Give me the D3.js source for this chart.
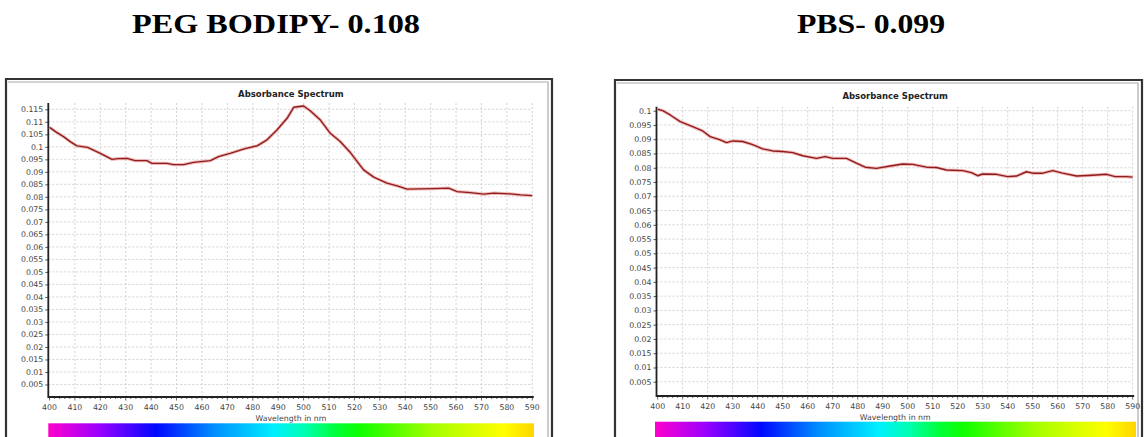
<!DOCTYPE html>
<html lang="en">
<head>
<meta charset="UTF-8">
<title>Absorbance Spectrum</title>
<style>
  body { margin: 0; background: #fff; }
  svg { display: block; }
  .tick-label { font-family: "DejaVu Sans", Verdana, sans-serif; font-size: 7.8px; fill: #444; }
</style>
</head>
<body>
<script src="https://d3js.org/d3.v7.min.js"></script>
<script>
// values
var headings = ['PEG BODIPY- 0.108', 'PBS- 0.099'];
var chartTitle = 'Absorbance Spectrum';
var xAxisTitle = 'Wavelength in nm';

var xTicks = d3.range(400, 591, 10);
var yTicksPeg = d3.range(1, 24).map(function (i) { return +(i * 0.005).toFixed(3); });
var yTicksPbs = d3.range(1, 21).map(function (i) { return +(i * 0.005).toFixed(3); });

var pegWavelength = [400, 402.5, 405.5, 408, 410.8, 415, 420, 424.6, 427, 430.5, 433.7, 438.3, 440.3, 446.2,
  448.8, 452.8, 456.7, 463.3, 466.5, 471.1, 477, 481.7, 485.6, 489.5, 493.5, 496.1, 500, 502.6, 506.6,
  510.5, 514.4, 518.4, 523.6, 527.6, 532.8, 536.8, 540.7, 545.9, 551.2, 557.1, 560.4, 565.6, 570.9,
  574.8, 581.4, 585.3, 590];
var pegAbsorbance = [0.1078, 0.1060, 0.1041, 0.1022, 0.1004, 0.0998, 0.0974, 0.0950, 0.0953, 0.0954, 0.0945,
  0.0945, 0.0934, 0.0934, 0.0929, 0.0929, 0.0938, 0.0945, 0.0961, 0.0974, 0.0993, 0.1004, 0.1028, 0.1067,
  0.1114, 0.1158, 0.1163, 0.1144, 0.1107, 0.1054, 0.1021, 0.0977, 0.0908, 0.0879, 0.0855, 0.0844, 0.0831,
  0.0832, 0.0833, 0.0835, 0.0821, 0.0817, 0.0811, 0.0815, 0.0812, 0.0808, 0.0805];

var pbsWavelength = [400, 402, 405, 409, 414, 418, 421, 425, 427.5, 430, 434, 438, 442, 446, 450, 454, 458,
  463.5, 467, 470, 475.5, 479.5, 483, 487.5, 493, 498, 502, 507.5, 511.5, 515.5, 522, 525.5, 528, 530,
  535.5, 540, 543.5, 547.5, 550, 554, 558, 562, 567.5, 574, 579.5, 583, 587.5, 590];
var pbsAbsorbance = [0.1005, 0.1000, 0.0985, 0.0962, 0.0944, 0.0929, 0.0909, 0.0898, 0.0888, 0.0894, 0.0892,
  0.0881, 0.0866, 0.0859, 0.0857, 0.0853, 0.0842, 0.0833, 0.0839, 0.0833, 0.0833, 0.0816, 0.0802, 0.0798,
  0.0806, 0.0813, 0.0812, 0.0802, 0.0801, 0.0792, 0.0790, 0.0783, 0.0772, 0.0778, 0.0777, 0.0769, 0.0771,
  0.0786, 0.0781, 0.0781, 0.0790, 0.0781, 0.0771, 0.0774, 0.0777, 0.0769, 0.0769, 0.0767];

// spectrum bar colours by wavelength
var spectrumStops = [[400, '#ff00cc'], [420, '#9a00ff'], [442, '#0008ff'], [465, '#0090ff'], [488, '#00eeff'],
  [500, '#00ffb4'], [512, '#00ff3c'], [522, '#10ff00'], [550, '#a4ff00'], [578, '#ffff00'], [590, '#ffd400']];

var svg = d3.select('body').append('svg')
  .attr('width', 1144).attr('height', 437);

var panels = [
  { id: 'peg', heading: headings[0], headX: 276, headLen: 288,
    frame: [6, 79, 552], x0: 49.5, x1: 532.3, yBottom: 397, yTop: 103, y115: 109.3, yRef: 0.115,
    titleY: 96.5, tickY: 410, labelY: 421, bar: [48.3, 534, 423.3],
    wl: pegWavelength, ab: pegAbsorbance, yTicks: yTicksPeg },
  { id: 'pbs', heading: headings[1], headX: 871, headLen: 148,
    frame: [615, 80, 1142], x0: 657.7, x1: 1132.7, yBottom: 396, yTop: 106.7, y115: 110.7, yRef: 0.1,
    titleY: 99, tickY: 408.5, labelY: 419.5, bar: [655, 1136, 421.7],
    wl: pbsWavelength, ab: pbsAbsorbance, yTicks: yTicksPbs }
];

panels.forEach(function (p) {
  var x = d3.scaleLinear().domain([400, 590]).range([p.x0, p.x1]);
  var y = d3.scaleLinear().domain([0, p.yRef]).range([p.yBottom, p.y115]);
  var axisX = p.x0 - 1.2;

  // big heading
  svg.append('text')
    .attr('x', p.headX).attr('y', 33)
    .attr('text-anchor', 'middle')
    .attr('textLength', p.headLen).attr('lengthAdjust', 'spacingAndGlyphs')
    .style('font-family', '"Liberation Serif", "Times New Roman", serif')
    .style('font-weight', 'bold').style('font-size', '28px')
    .text(p.heading);

  // frame
  var f = svg.append('g');
  f.append('path')
    .attr('d', 'M' + p.frame[0] + ',440V' + p.frame[1] + 'H' + p.frame[2] + 'V440')
    .attr('fill', 'none').attr('stroke', '#333').attr('stroke-width', 2.2);
  f.append('path')
    .attr('d', 'M' + (p.frame[0] + 2) + ',' + (p.frame[1] + 3) + 'H' + (p.frame[2] - 4) + 'V440')
    .attr('fill', 'none').attr('stroke', '#aaa').attr('stroke-width', 1.2);

  // grid
  var g = svg.append('g');
  g.selectAll('.vg').data(xTicks.slice(1)).enter().append('line')
    .attr('x1', function (d) { return x(d); }).attr('x2', function (d) { return x(d); })
    .attr('y1', p.yTop).attr('y2', p.yBottom)
    .attr('stroke', '#c8c8c8').attr('stroke-width', 0.8).attr('stroke-dasharray', '2,2');
  g.selectAll('.hg').data(p.yTicks).enter().append('line')
    .attr('x1', axisX).attr('x2', p.x1)
    .attr('y1', function (d) { return y(d); }).attr('y2', function (d) { return y(d); })
    .attr('stroke', '#c8c8c8').attr('stroke-width', 0.8).attr('stroke-dasharray', '2,2');

  // y axis
  var ya = svg.append('g').attr('transform', 'translate(' + axisX + ',0)')
    .call(d3.axisLeft(y).tickValues(p.yTicks).tickSize(3).tickPadding(2)
      .tickFormat(function (d) { return String(d); }));
  ya.select('.domain').remove();
  ya.selectAll('line').attr('stroke', '#555');
  ya.selectAll('text').attr('class', 'tick-label').attr('font-family', null).attr('font-size', null).attr('fill', null);
  svg.append('line')
    .attr('x1', axisX).attr('x2', axisX).attr('y1', p.yTop).attr('y2', p.yBottom + 1)
    .attr('stroke', '#222').attr('stroke-width', 1.8);

  // x axis with minor ticks
  var xa = svg.append('g').attr('transform', 'translate(0,' + p.yBottom + ')');
  xa.selectAll('.minor').data(d3.range(400, 591, 2)).enter().append('line')
    .attr('x1', function (d) { return x(d); }).attr('x2', function (d) { return x(d); })
    .attr('y1', 0).attr('y2', function (d) { return d % 10 === 0 ? 3.5 : 2; })
    .attr('stroke', '#444').attr('stroke-width', 0.8);
  xa.append('line').attr('x1', axisX).attr('x2', p.x1 + 1.5).attr('y1', 0).attr('y2', 0)
    .attr('stroke', '#222').attr('stroke-width', 1.8);
  svg.selectAll('.xl-' + p.id).data(xTicks).enter().append('text')
    .attr('class', 'tick-label')
    .attr('x', function (d) { return x(d); }).attr('y', p.tickY)
    .attr('text-anchor', 'middle')
    .text(function (d) { return d; });

  svg.append('text').attr('class', 'tick-label')
    .attr('x', (p.x0 + p.x1) / 2).attr('y', p.labelY)
    .attr('text-anchor', 'middle')
    .text(xAxisTitle);

  // chart title
  svg.append('text')
    .attr('x', (p.x0 + p.x1) / 2).attr('y', p.titleY)
    .attr('text-anchor', 'middle')
    .style('font-family', '"DejaVu Sans", Verdana, sans-serif')
    .style('font-weight', 'bold').style('font-size', '8.5px').style('fill', '#222')
    .text(chartTitle);

  // spectrum bar
  var grad = svg.append('defs').append('linearGradient')
    .attr('id', 'spec-' + p.id).attr('gradientUnits', 'userSpaceOnUse')
    .attr('x1', p.bar[0]).attr('x2', p.bar[1]).attr('y1', 0).attr('y2', 0);
  var barX = d3.scaleLinear().domain([400, 590]).range([0, 1]);
  grad.selectAll('stop').data(spectrumStops).enter().append('stop')
    .attr('offset', function (d) { return barX(d[0]); })
    .attr('stop-color', function (d) { return d[1]; });
  svg.append('rect')
    .attr('x', p.bar[0]).attr('y', p.bar[2])
    .attr('width', p.bar[1] - p.bar[0]).attr('height', 20)
    .attr('fill', 'url(#spec-' + p.id + ')');

  // spectrum line
  var pts = p.wl.map(function (w, i) { return [w, p.ab[i]]; });
  var line = d3.line().x(function (d) { return x(d[0]); }).y(function (d) { return y(d[1]); });
  svg.append('path').datum(pts).attr('d', line)
    .attr('fill', 'none').attr('stroke', '#f2b8b8').attr('stroke-width', 3.2).attr('stroke-linejoin', 'round');
  svg.append('path').datum(pts).attr('d', line)
    .attr('fill', 'none').attr('stroke', '#8e1e1e').attr('stroke-width', 1.4).attr('stroke-linejoin', 'round');
});
</script>
</body>
</html>
